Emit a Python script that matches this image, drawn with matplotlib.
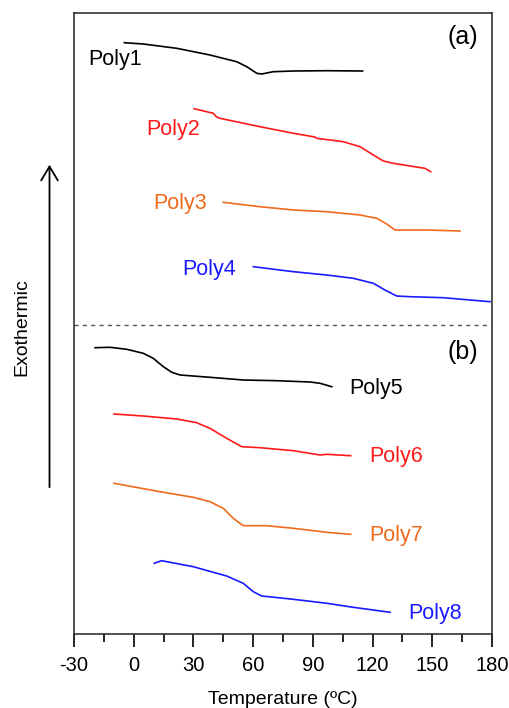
import numpy as np
import matplotlib.pyplot as plt
from matplotlib.ticker import MultipleLocator
from matplotlib.patches import FancyArrowPatch

plt.rcParams['font.family'] = ['Liberation Sans', 'DejaVu Sans']

# DSC traces: temperature (C) and heat-flow (arbitrary, offset units)
t1 = [-4.7, 4.8, 21.6, 38.3, 51.7, 56.8, 61.8, 64.3, 70.1, 80.2, 97.0, 115.0]
h1 = [591.3, 590.0, 585.7, 579.0, 572.3, 567.3, 560.7, 560.0, 562.3, 563.0, 563.3, 563.0]

t2 = [30.3, 40.0, 41.5, 43.3, 63.4, 80.2, 91.0, 91.9, 105.3, 113.7, 120.4, 125.4, 130.4, 138.8, 146.3, 149.2]
h2 = [525.3, 520.7, 517.3, 515.7, 507.3, 500.7, 497.0, 495.7, 492.3, 487.3, 479.0, 473.0, 470.7, 468.0, 465.7, 462.3]

t3 = [45.0, 63.4, 80.2, 97.0, 113.7, 122.1, 127.1, 131.3, 147.2, 163.9]
h3 = [431.7, 427.3, 424.0, 422.3, 419.0, 415.7, 410.0, 404.0, 404.0, 403.0]

t4 = [60.1, 80.2, 97.0, 110.3, 120.4, 126.2, 132.1, 138.8, 155.5, 179.0]
h4 = [367.3, 362.3, 359.0, 355.7, 350.7, 344.0, 338.0, 337.3, 336.3, 332.3]

t5 = [-19.4, -11.9, -3.5, 4.8, 9.8, 14.9, 19.1, 23.3, 38.3, 55.0, 71.8, 88.6, 93.6, 99.5]
h5 = [286.3, 286.7, 284.7, 280.7, 275.7, 267.3, 261.7, 259.0, 256.7, 254.0, 253.3, 252.0, 250.7, 247.3]

t6 = [-9.9, 4.8, 21.6, 31.6, 38.3, 46.7, 54.3, 63.4, 80.2, 93.6, 97.0, 109.0]
h6 = [220.0, 218.0, 215.0, 211.3, 205.7, 195.7, 187.3, 186.3, 183.3, 179.0, 179.7, 178.3]

t7 = [-9.9, 13.2, 29.9, 38.3, 45.0, 50.0, 55.0, 66.8, 80.2, 97.0, 109.0]
h7 = [150.7, 142.3, 136.7, 132.3, 125.7, 115.7, 108.3, 108.3, 105.7, 101.7, 99.7]

t8 = [10.3, 14.0, 29.9, 46.7, 55.0, 60.1, 64.3, 80.2, 97.0, 110.3, 128.8]
h8 = [70.7, 73.3, 67.3, 58.0, 50.7, 42.3, 38.0, 34.7, 30.7, 26.7, 21.7]

names = ["Poly1", "Poly2", "Poly3", "Poly4", "Poly5", "Poly6", "Poly7", "Poly8"]
colors = ["black", "#ff1a1a", "#f06a1e", "#1a1aff", "black", "#ff1a1a", "#f06a1e", "#1a1aff"]
label_t = [-23.0, 6.5, 9.7, 24.6, 108.3, 118.4, 118.4, 138.0]
label_h = [574.0, 504.0, 430.0, 365.0, 245.7, 177.3, 98.0, 20.0]

xticks = [-30, 0, 30, 60, 90, 120, 150, 180]
divider_h = 309.0

fig = plt.figure(figsize=(5.1, 7.08), dpi=100)
ax = fig.add_axes([74 / 510, 1 - 634 / 708, 418 / 510, 621 / 708])

traces = [(t1, h1), (t2, h2), (t3, h3), (t4, h4), (t5, h5), (t6, h6), (t7, h7), (t8, h8)]
for (t, h), name, c, lt, lh in zip(traces, names, colors, label_t, label_h):
    ax.plot(t, h, color=c, lw=1.2)
    ax.text(lt, lh, name, color=c, fontsize=15.5, ha="left", va="center")

ax.axhline(divider_h, color="#555555", lw=1.0, ls=(0, (3, 3)))
ax.text(172.8, 597.3, "(a)", fontsize=18, ha="right", va="center")
ax.text(172.8, 281.7, "(b)", fontsize=18, ha="right", va="center")

ax.set_xlim(-30, 180)
ax.set_ylim(0, 621)
ax.set_xticks(xticks)
ax.set_xticklabels([str(v) for v in xticks], fontsize=14.5)
ax.xaxis.set_minor_locator(MultipleLocator(15))
ax.tick_params(axis="x", which="major", direction="out", length=9.5, width=1.2, pad=6)
ax.tick_params(axis="x", which="minor", direction="out", length=5.5, width=1.2)
ax.set_yticks([])
ax.set_xlabel("Temperature (ºC)", fontsize=14, labelpad=12)
for s in ax.spines.values():
    s.set_linewidth(1.2)
    s.set_color("#333333")

# exothermic arrow outside the axes
fig.patches.append(FancyArrowPatch(
    (49.5 / 510, 1 - 490 / 708), (49.5 / 510, 1 - 162 / 708),
    transform=fig.transFigure, arrowstyle="->,head_length=10,head_width=6",
    color="black", lw=1.3, mutation_scale=1.0))
fig.text(22 / 510, 1 - 327 / 708, "Exothermic", rotation=90, fontsize=14,
         ha="center", va="center")

fig.savefig("out.png", dpi=100)
